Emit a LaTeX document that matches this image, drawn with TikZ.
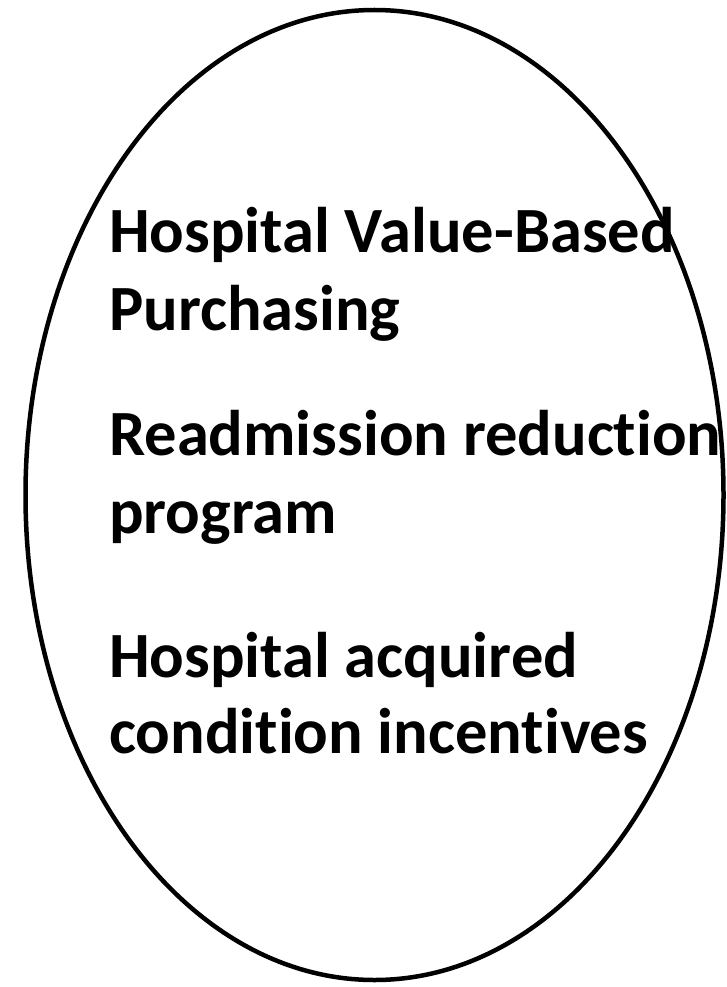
\documentclass[tikz,border=0pt]{standalone}
\usepackage{fontspec}
\setmainfont{Carlito}[Ligatures=NoCommon]
\usetikzlibrary{shapes.geometric}
\begin{document}
\begin{tikzpicture}[x=1pt,y=-1pt,
  txt/.style={anchor=base west,inner sep=0pt,font=\fontsize{64.5}{78}\selectfont\bfseries}]
\useasboundingbox (0,0) rectangle (726,987);
\fill[white] (0,0) rectangle (726,987);
\node[draw=black,line width=4.5pt,ellipse,minimum width=698pt,minimum height=970pt,inner sep=0pt] (oval) at (374.5,495) {};
\node[txt] (l1) at (109,252) {Hospital Value-Based};
\node[txt] (l2) at (109,330) {Purchasing};
\node[txt] (l3) at (109,455) {Readmission reduction};
\node[txt] (l4) at (109,533) {program};
\node[txt] (l5) at (109,677) {Hospital acquired};
\node[txt] (l6) at (109,753) {condition incentives};
\end{tikzpicture}
\end{document}
